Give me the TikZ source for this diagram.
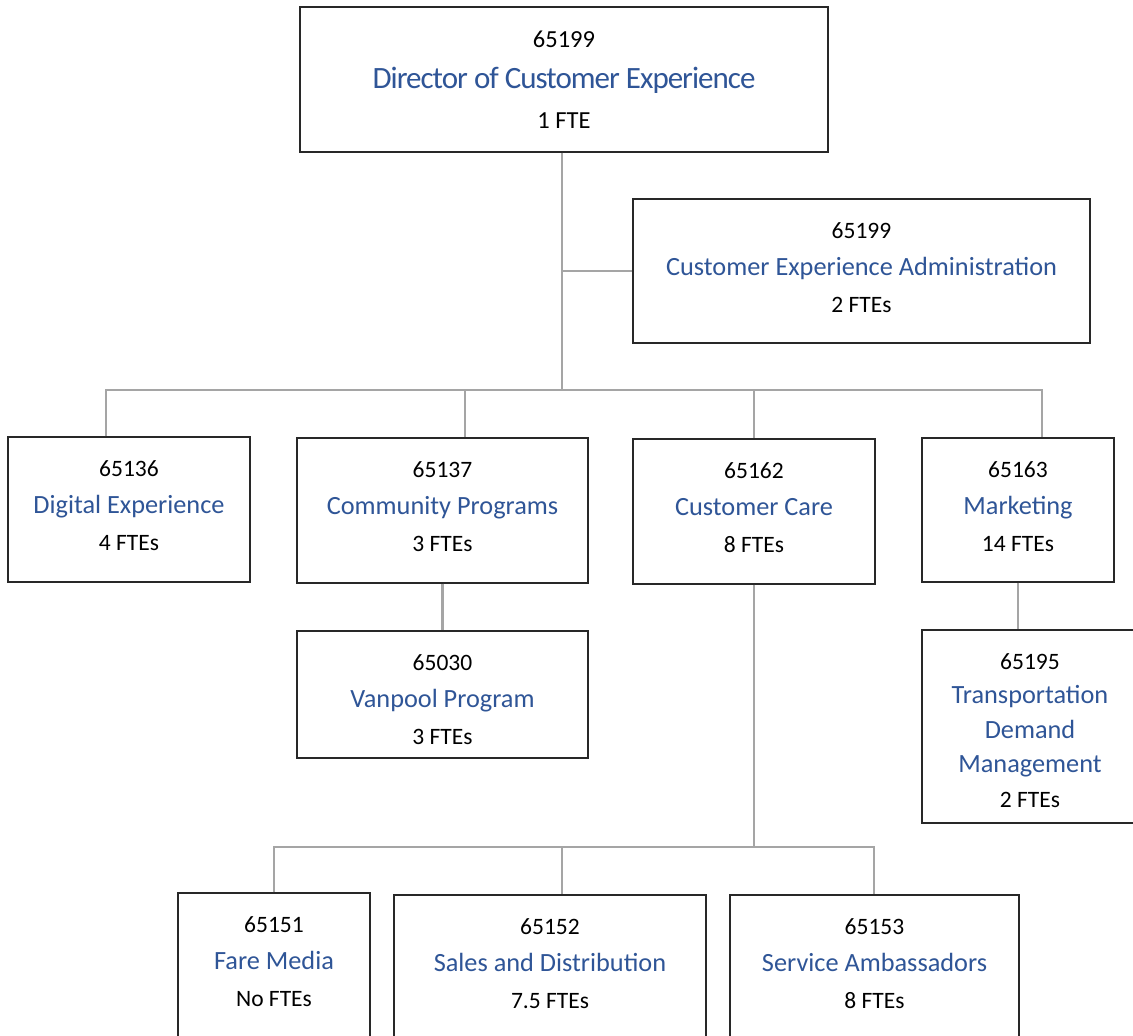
\documentclass[tikz,border=0pt]{standalone}
\usepackage{fontspec}
\setmainfont{Carlito}
\usetikzlibrary{calc}
\definecolor{titleblue}{RGB}{47,85,151}
\definecolor{linkgray}{RGB}{165,165,165}
\definecolor{boxline}{RGB}{40,40,40}

\newcommand{\ttl}[1]{{\fontsize{26.3}{37}\selectfont\color{titleblue}#1}}
\newcommand{\ttlb}[1]{{\fontsize{26.3}{34.5}\selectfont\color{titleblue}#1}}

\tikzset{
  orgbox/.style={draw=boxline, line width=1.3pt, fill=white, inner sep=0pt},
  orgtext/.style={anchor=north, align=center, inner sep=0pt,
    font=\fontsize{23.5}{37}\selectfont},
  link/.style={draw=linkgray, line width=2.5pt, line join=miter},
}

\begin{document}
\begin{tikzpicture}[x=1pt, y=-1pt]
\useasboundingbox (0,0) rectangle (1133,1036);
\clip (0,0) rectangle (1133,1036);

% junction points of the connector bars
\coordinate (hub) at (562,390);
\coordinate (barL) at (106,390);
\coordinate (barA) at (465,390);
\coordinate (barB) at (754,390);
\coordinate (barR) at (1042,390);
\coordinate (lowL) at (274,847);
\coordinate (lowM) at (562,847);
\coordinate (lowR) at (874,847);

% boxes
\node[orgbox, minimum width=528pt, minimum height=145pt] (dir) at (564,79.5) {};
\node[orgbox, minimum width=457pt, minimum height=144pt] (adm) at (861.5,271) {};
\node[orgbox, minimum width=242pt, minimum height=145pt] (dig) at (129,509.5) {};
\node[orgbox, minimum width=291pt, minimum height=145pt] (com) at (442.5,510.5) {};
\node[orgbox, minimum width=242pt, minimum height=145pt] (cc) at (754,511.5) {};
\node[orgbox, minimum width=192pt, minimum height=144pt] (mkt) at (1018,510) {};
\node[orgbox, minimum width=291pt, minimum height=127pt] (van) at (442.5,694.5) {};
\node[orgbox, minimum width=216pt, minimum height=193pt] (tdm) at (1030,726.5) {};
\node[orgbox, minimum width=192pt, minimum height=170pt] (fm) at (274,978) {};
\node[orgbox, minimum width=312pt, minimum height=170pt] (sal) at (550,980) {};
\node[orgbox, minimum width=289pt, minimum height=170pt] (svc) at (874.5,980) {};

% connector lines
\draw[link] (hub |- dir.south) -- (hub);
\draw[link] (hub |- adm.west) -- (adm.west);
\draw[link] (barL |- dig.north) -- (barL) -- (barR) -- (barR |- mkt.north);
\draw[link] (barA) -- (barA |- com.north);
\draw[link] (barB) -- (barB |- cc.north);
\draw[link] (com.south) -- (van.north);
\draw[link] (mkt.south) -- (mkt.south |- tdm.north);
\draw[link] (cc.south) -- (cc.south |- lowM);
\draw[link] (lowL |- fm.north) -- (lowL) -- (lowR) -- (lowR |- svc.north);
\draw[link] (lowM) -- (lowM |- sal.north);

% texts
\node[orgtext, font=\fontsize{24.5}{40.5}\selectfont] (dir-t) at ([yshift=-24.5pt]dir.north)
  {65199\\{\fontsize{31}{40.5}\selectfont\addfontfeature{LetterSpace=-3.2}\color{titleblue}Director of Customer Experience}\\1 FTE};
\node[orgtext] (adm-t) at ([yshift=-24pt]adm.north)
  {65199\\\ttl{Customer Experience Administration}\\2 FTEs};
\node[orgtext] (dig-t) at ([yshift=-24pt]dig.north)
  {65136\\\ttl{Digital Experience}\\4 FTEs};
\node[orgtext] (com-t) at ([yshift=-24pt]com.north)
  {65137\\\ttl{Community Programs}\\3 FTEs};
\node[orgtext] (cc-t) at ([yshift=-24pt]cc.north)
  {65162\\\ttl{Customer Care}\\8 FTEs};
\node[orgtext] (mkt-t) at ([yshift=-24pt]mkt.north)
  {65163\\\ttl{Marketing}\\14 FTEs};
\node[orgtext] (van-t) at ([yshift=-24pt]van.north)
  {65030\\\ttl{Vanpool Program}\\3 FTEs};
\node[orgtext, font=\fontsize{23.5}{34.5}\selectfont] (tdm-t) at ([yshift=-24pt]tdm.north)
  {65195\\\ttlb{Transportation}\\\ttlb{Demand}\\\ttlb{Management}\\2 FTEs};
\node[orgtext] (fm-t) at ([yshift=-24pt]fm.north)
  {65151\\\ttl{Fare Media}\\No FTEs};
\node[orgtext] (sal-t) at ([yshift=-24pt]sal.north)
  {65152\\\ttl{Sales and Distribution}\\7.5 FTEs};
\node[orgtext] (svc-t) at ([yshift=-24pt]svc.north)
  {65153\\\ttl{Service Ambassadors}\\8 FTEs};
\end{tikzpicture}
\end{document}
